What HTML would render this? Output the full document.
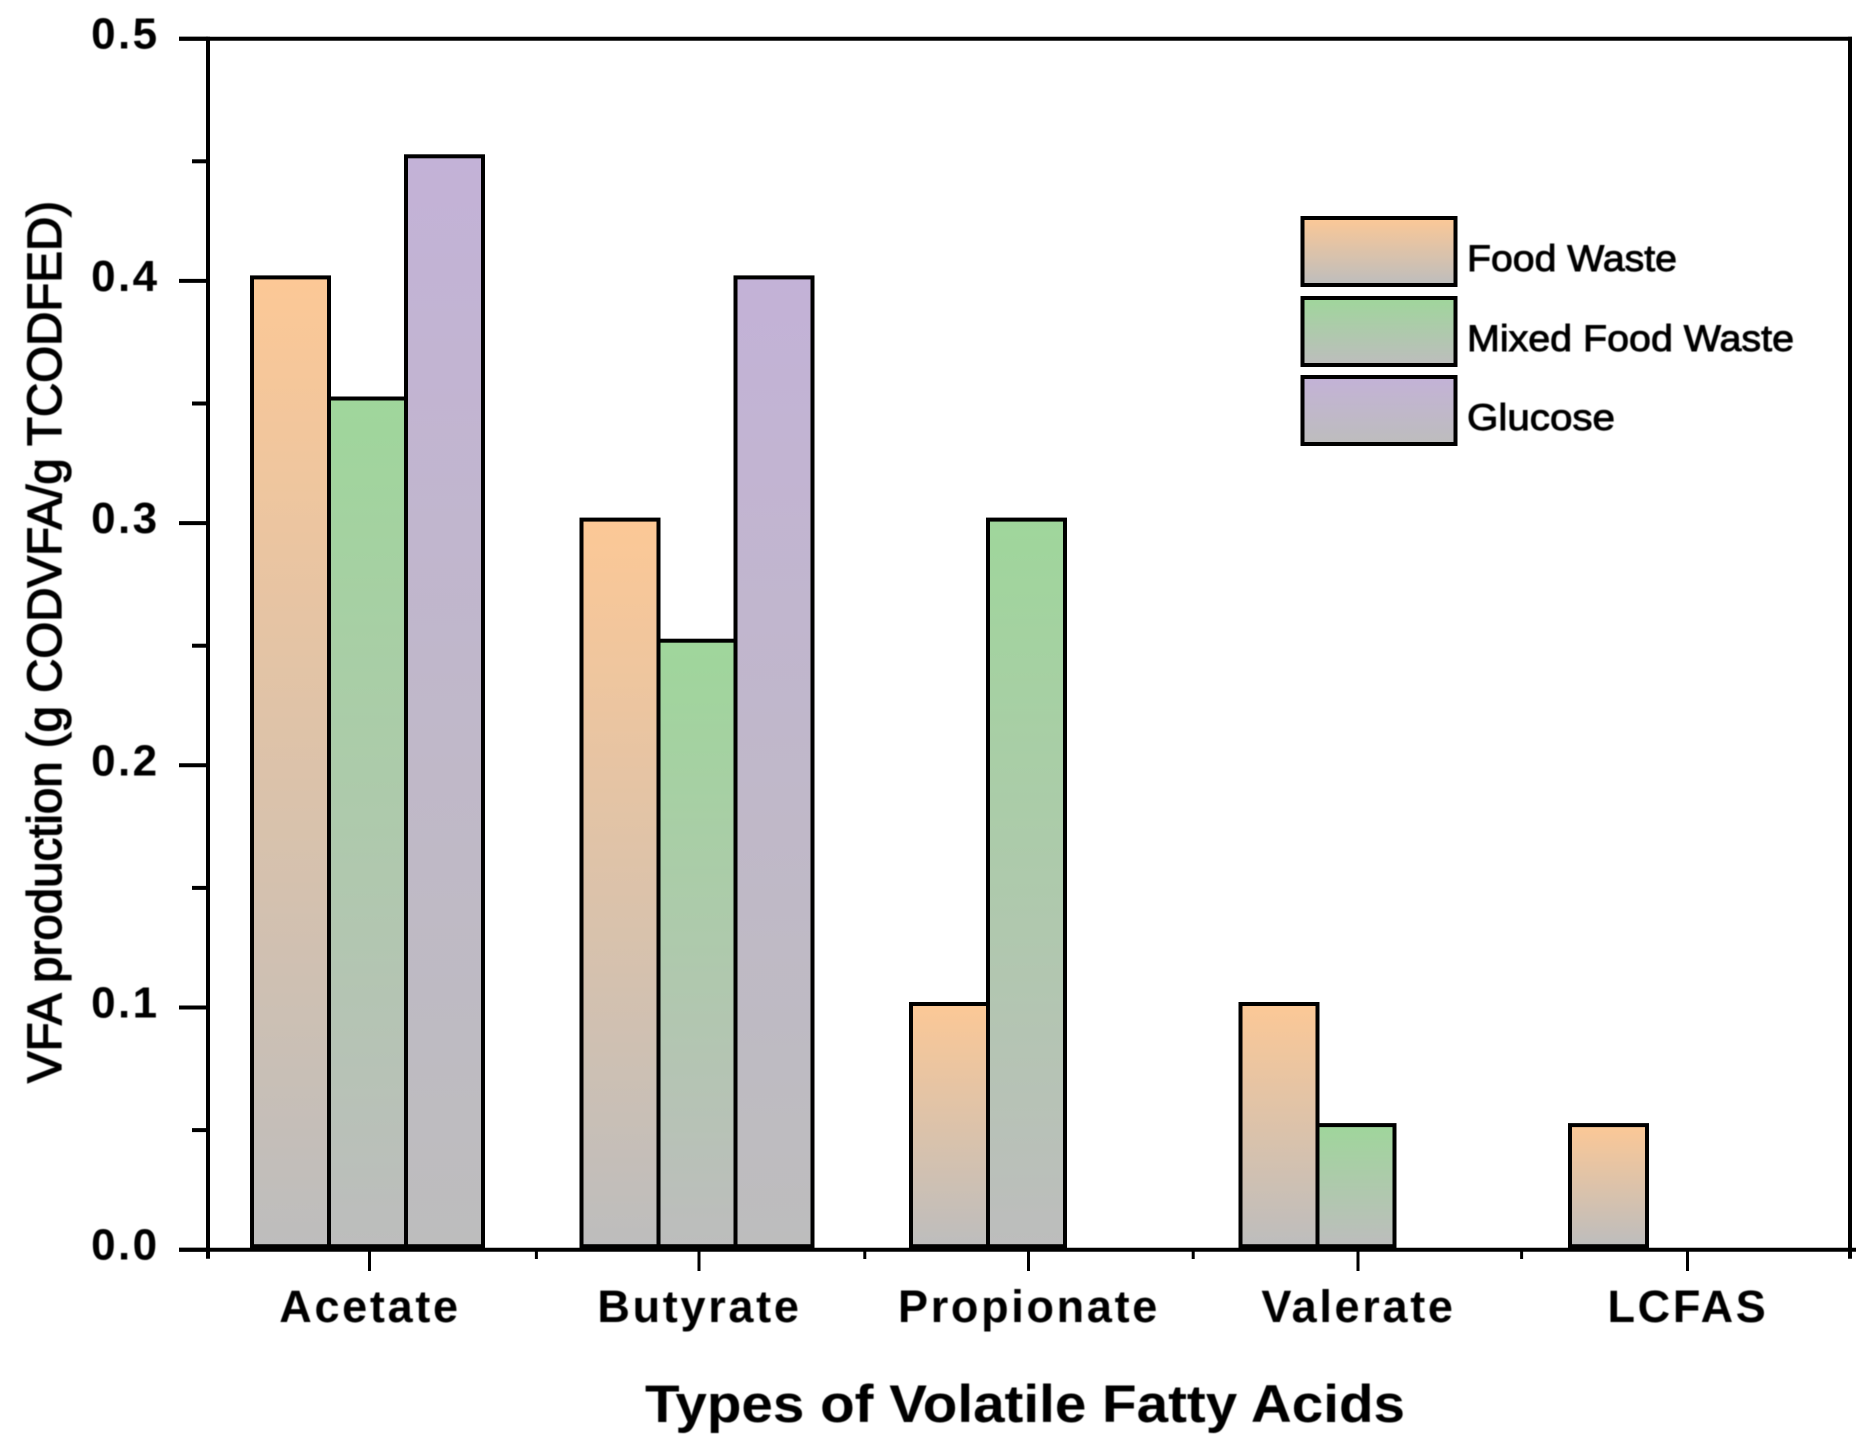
<!DOCTYPE html>
<html lang="en">
<head>
<meta charset="utf-8">
<title>VFA production by type of volatile fatty acid</title>
<style>
html,body{margin:0;padding:0;background:#fff;width:1874px;height:1451px;overflow:hidden}
svg{display:block}
text{font-family:"Liberation Sans",sans-serif;fill:#000;filter:blur(0.4px)}
.tick-label{font-size:44px;font-weight:700;letter-spacing:2.4px}
.cat-label{font-size:45px;font-weight:700;letter-spacing:2.7px}
</style>
</head>
<body>
<svg id="chart" xmlns="http://www.w3.org/2000/svg" width="1874" height="1451" viewBox="0 0 1874 1451">
  <defs>
    <linearGradient id="grad-food" x1="0" y1="0" x2="0" y2="1"><stop offset="0" stop-color="#fcc896"/><stop offset="1" stop-color="#bdbdbd"/></linearGradient>
    <linearGradient id="grad-mixed" x1="0" y1="0" x2="0" y2="1"><stop offset="0" stop-color="#9fd69b"/><stop offset="1" stop-color="#bdbdbd"/></linearGradient>
    <linearGradient id="grad-glucose" x1="0" y1="0" x2="0" y2="1"><stop offset="0" stop-color="#c3b2d7"/><stop offset="1" stop-color="#bdbdbd"/></linearGradient>
  </defs>
  <g id="bars"></g>
  <g id="axes"></g>
  <text transform="translate(61,1083) rotate(-90)" font-size="48" textLength="882" lengthAdjust="spacingAndGlyphs" stroke="#000" stroke-width="1.3">VFA production (g CODVFA/g TCODFED)</text>
  <text x="645" y="1422" font-size="53" font-weight="700" textLength="760" lengthAdjust="spacingAndGlyphs">Types of Volatile Fatty Acids</text>
  <g>
    <rect x="1302.5" y="218" width="153" height="67" fill="url(#grad-food)" stroke="#000" stroke-width="4"/>
    <text x="1467" y="271" font-size="37" textLength="210" lengthAdjust="spacingAndGlyphs" stroke="#000" stroke-width="0.9">Food Waste</text>
    <rect x="1302.5" y="298" width="153" height="67" fill="url(#grad-mixed)" stroke="#000" stroke-width="4"/>
    <text x="1467" y="351" font-size="37" textLength="327" lengthAdjust="spacingAndGlyphs" stroke="#000" stroke-width="0.9">Mixed Food Waste</text>
    <rect x="1302.5" y="377" width="153" height="67" fill="url(#grad-glucose)" stroke="#000" stroke-width="4"/>
    <text x="1467" y="430" font-size="37" textLength="148" lengthAdjust="spacingAndGlyphs" stroke="#000" stroke-width="0.9">Glucose</text>
  </g>
</svg>
<script>
const categories = ["Acetate", "Butyrate", "Propionate", "Valerate", "LCFAS"];
const foodWaste = [0.40, 0.30, 0.10, 0.10, 0.05];
const mixedFoodWaste = [0.35, 0.25, 0.30, 0.05, 0];
const glucose = [0.45, 0.40, 0, 0, 0];
const yMajorTicks = [0, 0.1, 0.2, 0.3, 0.4, 0.5];
const yMinorTicks = [0.05, 0.15, 0.25, 0.35, 0.45];

const NS = "http://www.w3.org/2000/svg";
const barsG = document.getElementById("bars");
const axesG = document.getElementById("axes");

const PLOT_LEFT = 208, PLOT_RIGHT = 1850, PLOT_TOP = 38.7, PLOT_BOTTOM = 1249.7;
const Y_MAX = 0.5;
function yScale(v) { return PLOT_BOTTOM - (v / Y_MAX) * (PLOT_BOTTOM - PLOT_TOP); }
const GROUP_STEP = 329.5, GROUP_LEFT = 252, SLOT = 77, TICK_CENTER = 369.5;
function xGroup(i) { return GROUP_LEFT + GROUP_STEP * i; }
function xCenter(i) { return TICK_CENTER + GROUP_STEP * i; }
function xEdge(j) { return PLOT_LEFT + (PLOT_RIGHT - PLOT_LEFT) / categories.length * j; }

function makeLine(x1, y1, x2, y2, w) {
  const l = document.createElementNS(NS, "line");
  l.setAttribute("x1", x1);
  l.setAttribute("y1", y1);
  l.setAttribute("x2", x2);
  l.setAttribute("y2", y2);
  l.setAttribute("stroke", "#000");
  l.setAttribute("stroke-width", w);
  return l;
}

function drawSeries(values, slot, gradient, seriesName) {
  values.forEach(function (v, i) {
    if (!(v > 0)) return;
    const r = document.createElementNS(NS, "rect");
    const top = yScale(v) - 3.5;
    const bottom = PLOT_BOTTOM - 3.5;
    r.setAttribute("x", xGroup(i) + slot * SLOT);
    r.setAttribute("y", top);
    r.setAttribute("width", SLOT);
    r.setAttribute("height", bottom - top);
    r.setAttribute("fill", "url(#" + gradient + ")");
    r.setAttribute("stroke", "#000");
    r.setAttribute("stroke-width", 4);
    
    
    barsG.appendChild(r);
  });
}
drawSeries(foodWaste, 0, "grad-food", "food-waste");
drawSeries(mixedFoodWaste, 1, "grad-mixed", "mixed-food-waste");
drawSeries(glucose, 2, "grad-glucose", "glucose");

const leftAxis = makeLine(PLOT_LEFT, PLOT_TOP - 2, PLOT_LEFT, PLOT_BOTTOM + 9, 4);


axesG.appendChild(leftAxis);

const bottomAxis = makeLine(179, PLOT_BOTTOM, PLOT_RIGHT + 6, PLOT_BOTTOM, 4);


axesG.appendChild(bottomAxis);

const topBorder = makeLine(179, PLOT_TOP, PLOT_RIGHT + 2, PLOT_TOP, 4);


axesG.appendChild(topBorder);

const rightBorder = makeLine(PLOT_RIGHT, PLOT_TOP - 2, PLOT_RIGHT, PLOT_BOTTOM + 9, 4);


axesG.appendChild(rightBorder);

yMinorTicks.forEach(function (v) {
  const t = makeLine(192, yScale(v) + 1.5, PLOT_LEFT, yScale(v) + 1.5, 4);
  
  
  axesG.appendChild(t);
});

yMajorTicks.forEach(function (v) {
  const t = makeLine(179, yScale(v), PLOT_LEFT, yScale(v), 4);
  
  
  axesG.appendChild(t);
  const label = document.createElementNS(NS, "text");
  label.setAttribute("x", 159.5);
  label.setAttribute("y", yScale(v) + 10);
  label.setAttribute("text-anchor", "end");
  label.setAttribute("class", "tick-label");
  
  
  label.textContent = v.toFixed(1);
  axesG.appendChild(label);
});

for (let j = 1; j < categories.length; j++) {
  const t = makeLine(xEdge(j), PLOT_BOTTOM, xEdge(j), 1259, 3);
  
  
  axesG.appendChild(t);
}

categories.forEach(function (c, i) {
  const t = makeLine(xCenter(i), PLOT_BOTTOM, xCenter(i), 1271, 3);
  
  
  axesG.appendChild(t);
  const label = document.createElementNS(NS, "text");
  label.setAttribute("x", xCenter(i) + 0.5);
  label.setAttribute("y", 1322);
  label.setAttribute("text-anchor", "middle");
  label.setAttribute("class", "cat-label");
  
  
  label.textContent = c;
  axesG.appendChild(label);
});
</script>
</body>
</html>
